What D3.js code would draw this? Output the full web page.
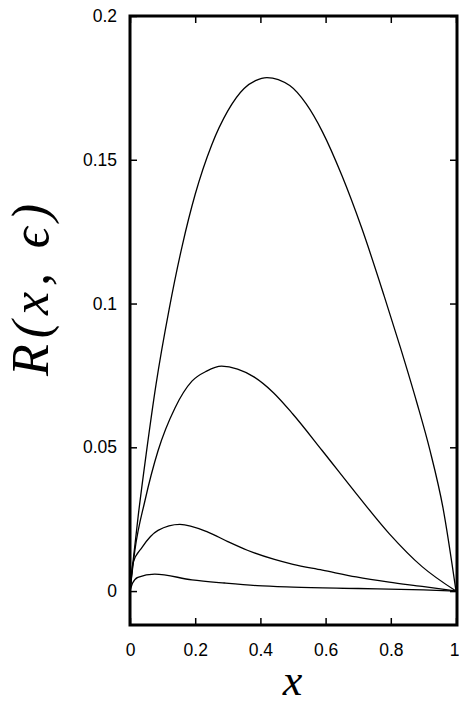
<!DOCTYPE html>
<html>
<head>
<meta charset="utf-8">
<script src="https://cdn.jsdelivr.net/npm/d3@7"></script>
<style>
  body { margin: 0; background: #fff; }
  .tick text { font-family: "Liberation Sans", Arial, sans-serif; font-size: 17.5px; fill: #000; }
  .curve { fill: none; stroke: #000; stroke-width: 1.3; }
  .frame { fill: none; stroke: #000; stroke-width: 3; }
  .axis-title { font-family: "Liberation Serif", "DejaVu Serif", serif; font-style: italic; fill: #000; }
</style>
</head>
<body>
<div id="chart"></div>
<script>
//MARGIN CONVENTION
var MARGIN = { LEFT: 130, RIGHT: 2, TOP: 16, BOTTOM: 79 }
var WIDTH  = 459, HEIGHT = 704
var GRAPH  = { WIDTH: WIDTH - MARGIN.LEFT - MARGIN.RIGHT, HEIGHT: HEIGHT - MARGIN.TOP - MARGIN.BOTTOM }

// DATA
const xTicks = [0, 0.2, 0.4, 0.6, 0.8, 1]
const yTicks = [0, 0.05, 0.1, 0.15, 0.2]
const yTickLabels = ['0', '0.05', '0.1', '0.15', '0.2']

const curveA = [[0,0],[0.01,0.011],[0.025,0.026],[0.05,0.048],[0.08,0.072],[0.12,0.098],
  [0.16,0.12],[0.2,0.138],[0.25,0.155],[0.3,0.167],[0.35,0.1748],[0.385,0.1775],[0.42,0.1786],
  [0.49,0.1758],[0.54,0.1695],[0.59,0.1598],[0.65,0.1445],[0.71,0.1265],[0.78,0.1025],
  [0.83,0.0845],[0.88,0.0655],[0.92,0.049],[0.96,0.029],[1,0]]
const curveB = [[0,0],[0.015,0.0142],[0.046,0.0315],[0.086,0.0488],[0.138,0.0637],[0.19,0.073],
  [0.235,0.0765],[0.281,0.0782],[0.33,0.0772],[0.38,0.0745],[0.44,0.069],[0.5,0.0615],
  [0.59,0.0488],[0.694,0.0339],[0.795,0.02],[0.896,0.0085],[1,0]]
const curveC = [[0,0],[0.009,0.0097],[0.037,0.0152],[0.086,0.0211],[0.153,0.0232],[0.239,0.0205],
  [0.3,0.0172],[0.36,0.0142],[0.443,0.011],[0.5,0.0093],[0.59,0.0073],[0.694,0.0049],[0.795,0.0031],
  [0.896,0.0016],[1,0]]
const curveD = [[0,0],[0.008,0.0028],[0.024,0.0048],[0.076,0.0059],[0.19,0.0039],[0.29,0.0028],
  [0.39,0.0019],[0.5,0.0014],[0.7,0.0009],[0.9,0.0004],[1,0]]
const curves = [curveA, curveB, curveC, curveD]

const svg = d3.select('#chart').append('svg')
  .attr('width', WIDTH).attr('height', HEIGHT)
const g = svg.append('g').attr('transform', `translate(${MARGIN.LEFT},${MARGIN.TOP})`)

//SCALES
const xScale = d3.scaleLinear().domain([0, 1]).range([0, GRAPH.WIDTH - 1])
const yScale = d3.scaleLinear().domain([-0.0118, 0.2]).range([GRAPH.HEIGHT, 0])

//AXES (ticks inward on all four sides)
const TICK = 7
g.append('g').attr('transform', `translate(0,${GRAPH.HEIGHT})`)
  .call(d3.axisBottom(xScale).tickValues(xTicks).tickSize(-TICK).tickPadding(TICK + 12)
    .tickFormat(d3.format('~g')))
  .selectAll('.tick:last-of-type text').attr('dx', -2)
g.append('g').attr('transform', `translate(0,0)`)
  .call(d3.axisTop(xScale).tickValues(xTicks).tickSize(-TICK).tickFormat(''))
g.append('g')
  .call(d3.axisLeft(yScale).tickValues(yTicks).tickSize(-TICK).tickPadding(TICK + 6)
    .tickFormat((d, i) => yTickLabels[i]))
g.append('g').attr('transform', `translate(${GRAPH.WIDTH},0)`)
  .call(d3.axisRight(yScale).tickValues(yTicks).tickSize(-TICK).tickFormat(''))
g.selectAll('.domain').remove()
g.selectAll('.tick line').attr('stroke', '#000').attr('stroke-width', 1.5)

// CURVES
const line = d3.line()
  .curve(d3.curveMonotoneX)
  .x(d => xScale(d[0]))
  .y(d => yScale(d[1]))
g.selectAll('.curve').data(curves).join('path')
  .attr('class', 'curve')
  .attr('d', line)

// FRAME
g.append('rect').attr('class', 'frame')
  .attr('x', 0).attr('y', 0)
  .attr('width', GRAPH.WIDTH).attr('height', GRAPH.HEIGHT)

// LABELS
svg.append('text').attr('class', 'axis-title')
  .attr('x', MARGIN.LEFT + GRAPH.WIDTH / 2 - 1).attr('y', 695)
  .attr('text-anchor', 'middle').attr('font-size', 44)
  .text('x')
svg.append('text').attr('class', 'axis-title')
  .attr('transform', `translate(48,${290}) rotate(-90)`)
  .attr('text-anchor', 'middle').attr('font-size', 52)
  .attr('textLength', 172).attr('lengthAdjust', 'spacing')
  .text('R(x, ϵ)')
</script>
</body>
</html>
